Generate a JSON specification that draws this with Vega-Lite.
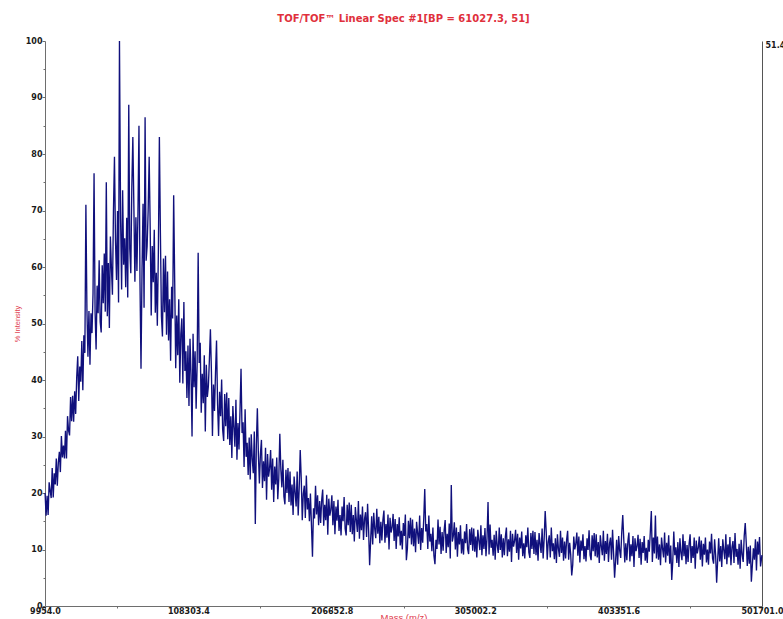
{
"$schema": "https://vega.github.io/schema/vega-lite/v6.json",
"width": 717,
"height": 565,
"autosize": {"type": "none"},
"padding": {"left": 45, "top": 41, "right": 21, "bottom": 13},
"background": "white",
"title": {"text": "TOF/TOF™ Linear Spec #1[BP = 61027.3, 51]", "color": "#e0303c", "font": "DejaVu Sans", "fontSize": 10, "fontWeight": "bold", "anchor": "middle", "offset": 13},
"data": {"values": [
{"mz":10000,"pct":20.0},{"mz":10700,"pct":16.0},{"mz":11400,"pct":19.5},{"mz":12100,"pct":16.1},{"mz":12800,"pct":21.9},{"mz":13500,"pct":20.4},{"mz":14200,"pct":19.1},{"mz":14900,"pct":24.4},{"mz":15600,"pct":19.2},{"mz":16300,"pct":23.5},
{"mz":17000,"pct":21.5},{"mz":17700,"pct":26.1},{"mz":18400,"pct":21.3},{"mz":19100,"pct":25.4},{"mz":19800,"pct":27.3},{"mz":20500,"pct":23.7},{"mz":21200,"pct":30.1},{"mz":21900,"pct":26.3},{"mz":22600,"pct":28.4},{"mz":23300,"pct":26.1},
{"mz":24000,"pct":31.0},{"mz":24700,"pct":26.1},{"mz":25400,"pct":33.6},{"mz":26100,"pct":31.1},{"mz":26800,"pct":30.2},{"mz":27500,"pct":37.0},{"mz":28200,"pct":32.7},{"mz":28900,"pct":37.2},{"mz":29600,"pct":32.6},{"mz":30300,"pct":38.0},
{"mz":31000,"pct":34.0},{"mz":31700,"pct":40.5},{"mz":32400,"pct":44.2},{"mz":33100,"pct":36.3},{"mz":33800,"pct":42.4},{"mz":34500,"pct":39.7},{"mz":35200,"pct":46.9},{"mz":35900,"pct":38.2},{"mz":36600,"pct":47.9},{"mz":37300,"pct":44.8},
{"mz":38000,"pct":71.0},{"mz":38700,"pct":52.6},{"mz":39400,"pct":44.1},{"mz":40100,"pct":52.2},{"mz":40800,"pct":42.7},{"mz":41500,"pct":51.8},{"mz":42200,"pct":48.3},{"mz":42900,"pct":55.4},{"mz":43600,"pct":76.6},{"mz":44300,"pct":52.0},
{"mz":45000,"pct":45.4},{"mz":45700,"pct":56.7},{"mz":46400,"pct":51.8},{"mz":47100,"pct":61.2},{"mz":47800,"pct":50.3},{"mz":48500,"pct":48.4},{"mz":49200,"pct":60.3},{"mz":49900,"pct":53.6},{"mz":50600,"pct":62.4},{"mz":51300,"pct":52.1},
{"mz":52000,"pct":75.0},{"mz":52700,"pct":51.3},{"mz":53400,"pct":60.7},{"mz":54100,"pct":49.2},{"mz":54800,"pct":65.4},{"mz":55500,"pct":59.9},{"mz":56200,"pct":55.1},{"mz":56900,"pct":69.8},{"mz":57600,"pct":79.5},{"mz":58300,"pct":64.7},
{"mz":59000,"pct":57.7},{"mz":59700,"pct":69.9},{"mz":60400,"pct":53.7},{"mz":61027.3,"pct":100.0},{"mz":61800,"pct":68.5},{"mz":62500,"pct":56.0},{"mz":63200,"pct":73.6},{"mz":63900,"pct":60.4},{"mz":64600,"pct":65.1},{"mz":65300,"pct":56.4},
{"mz":66000,"pct":68.7},{"mz":66700,"pct":54.6},{"mz":67400,"pct":88.7},{"mz":68100,"pct":63.2},{"mz":68800,"pct":58.9},{"mz":69500,"pct":74.1},{"mz":70200,"pct":83.0},{"mz":70900,"pct":70.8},{"mz":71600,"pct":57.4},{"mz":72300,"pct":68.8},
{"mz":73000,"pct":59.3},{"mz":73700,"pct":69.4},{"mz":74400,"pct":85.0},{"mz":75100,"pct":57.4},{"mz":75800,"pct":42.0},{"mz":76500,"pct":59.6},{"mz":77200,"pct":71.2},{"mz":77900,"pct":52.8},{"mz":78600,"pct":86.5},{"mz":79300,"pct":61.1},
{"mz":80000,"pct":63.7},{"mz":80700,"pct":70.0},{"mz":81400,"pct":79.5},{"mz":82100,"pct":66.9},{"mz":82800,"pct":51.4},{"mz":83500,"pct":63.7},{"mz":84200,"pct":57.3},{"mz":84900,"pct":66.6},{"mz":85600,"pct":51.9},{"mz":86300,"pct":59.0},
{"mz":87000,"pct":49.6},{"mz":87700,"pct":62.5},{"mz":88400,"pct":83.0},{"mz":89100,"pct":66.0},{"mz":89800,"pct":51.3},{"mz":90500,"pct":47.7},{"mz":91200,"pct":61.5},{"mz":91900,"pct":52.0},{"mz":92600,"pct":62.0},{"mz":93300,"pct":48.0},
{"mz":94000,"pct":59.2},{"mz":94700,"pct":47.0},{"mz":95400,"pct":54.3},{"mz":96100,"pct":43.4},{"mz":96800,"pct":56.5},{"mz":97500,"pct":50.9},{"mz":98200,"pct":72.7},{"mz":98900,"pct":57.6},{"mz":99600,"pct":42.1},{"mz":100300,"pct":51.4},
{"mz":101000,"pct":44.4},{"mz":101700,"pct":54.3},{"mz":102400,"pct":39.5},{"mz":103100,"pct":48.1},{"mz":103800,"pct":50.9},{"mz":104500,"pct":39.4},{"mz":105200,"pct":53.8},{"mz":105900,"pct":41.6},{"mz":106600,"pct":45.1},{"mz":107300,"pct":36.8},
{"mz":108000,"pct":46.1},{"mz":108700,"pct":35.4},{"mz":109400,"pct":47.3},{"mz":110100,"pct":41.0},{"mz":110800,"pct":30.0},{"mz":111500,"pct":48.2},{"mz":112200,"pct":38.7},{"mz":112900,"pct":45.1},{"mz":113600,"pct":34.9},{"mz":114300,"pct":42.9},
{"mz":115000,"pct":62.5},{"mz":115700,"pct":43.0},{"mz":116400,"pct":46.6},{"mz":117100,"pct":34.2},{"mz":117800,"pct":41.1},{"mz":118500,"pct":35.9},{"mz":119200,"pct":44.4},{"mz":119900,"pct":30.9},{"mz":120600,"pct":42.7},{"mz":121300,"pct":37.0},
{"mz":122000,"pct":38.9},{"mz":122700,"pct":43.6},{"mz":123400,"pct":49.0},{"mz":124100,"pct":41.4},{"mz":124800,"pct":30.1},{"mz":125500,"pct":39.2},{"mz":126200,"pct":34.5},{"mz":126900,"pct":41.3},{"mz":127600,"pct":47.0},{"mz":128300,"pct":35.8},
{"mz":129000,"pct":30.1},{"mz":129700,"pct":37.9},{"mz":130400,"pct":33.6},{"mz":131100,"pct":40.1},{"mz":131800,"pct":31.2},{"mz":132500,"pct":29.2},{"mz":133200,"pct":37.5},{"mz":133900,"pct":31.8},{"mz":134600,"pct":37.8},{"mz":135300,"pct":29.5},
{"mz":136000,"pct":36.8},{"mz":136700,"pct":28.5},{"mz":137400,"pct":33.6},{"mz":138100,"pct":26.2},{"mz":138800,"pct":35.4},{"mz":139500,"pct":31.6},{"mz":140200,"pct":28.2},{"mz":140900,"pct":36.5},{"mz":141600,"pct":25.9},{"mz":142300,"pct":32.4},
{"mz":143000,"pct":27.7},{"mz":143700,"pct":34.6},{"mz":144400,"pct":42.0},{"mz":145100,"pct":30.6},{"mz":145800,"pct":32.5},{"mz":146500,"pct":24.6},{"mz":147200,"pct":34.8},{"mz":147900,"pct":26.4},{"mz":148600,"pct":28.9},{"mz":149300,"pct":23.2},
{"mz":150000,"pct":29.8},{"mz":150700,"pct":22.4},{"mz":151400,"pct":30.4},{"mz":152100,"pct":26.0},{"mz":152800,"pct":23.5},{"mz":153500,"pct":30.9},{"mz":154200,"pct":14.5},{"mz":154900,"pct":28.5},{"mz":155600,"pct":35.0},{"mz":156300,"pct":26.8},
{"mz":157000,"pct":21.7},{"mz":157700,"pct":26.9},{"mz":158400,"pct":29.4},{"mz":159100,"pct":20.9},{"mz":159800,"pct":25.6},{"mz":160500,"pct":22.1},{"mz":161200,"pct":28.0},{"mz":161900,"pct":18.8},{"mz":162600,"pct":26.9},{"mz":163300,"pct":22.9},
{"mz":164000,"pct":24.4},{"mz":164700,"pct":27.6},{"mz":165400,"pct":20.6},{"mz":166100,"pct":26.1},{"mz":166800,"pct":18.4},{"mz":167500,"pct":24.7},{"mz":168200,"pct":21.5},{"mz":168900,"pct":26.3},{"mz":169600,"pct":18.9},{"mz":170300,"pct":22.6},
{"mz":171000,"pct":30.5},{"mz":171700,"pct":24.2},{"mz":172400,"pct":21.0},{"mz":173100,"pct":25.9},{"mz":173800,"pct":19.4},{"mz":174500,"pct":18.0},{"mz":175200,"pct":24.1},{"mz":175900,"pct":20.0},{"mz":176600,"pct":24.4},{"mz":177300,"pct":18.4},
{"mz":178000,"pct":23.8},{"mz":178700,"pct":17.8},{"mz":179400,"pct":21.5},{"mz":180100,"pct":16.1},{"mz":180800,"pct":22.9},{"mz":181500,"pct":20.1},{"mz":182200,"pct":17.6},{"mz":182900,"pct":23.8},{"mz":183600,"pct":16.0},{"mz":184300,"pct":20.9},
{"mz":185000,"pct":27.6},{"mz":185700,"pct":22.5},{"mz":186400,"pct":15.2},{"mz":187100,"pct":19.8},{"mz":187800,"pct":21.3},{"mz":188500,"pct":15.6},{"mz":189200,"pct":23.1},{"mz":189900,"pct":17.1},{"mz":190600,"pct":19.1},{"mz":191300,"pct":15.0},
{"mz":192000,"pct":19.9},{"mz":192700,"pct":14.3},{"mz":193400,"pct":8.7},{"mz":194100,"pct":17.3},{"mz":194800,"pct":15.5},{"mz":195500,"pct":21.3},{"mz":196200,"pct":16.2},{"mz":196900,"pct":19.6},{"mz":197600,"pct":14.3},{"mz":198300,"pct":18.6},
{"mz":199000,"pct":14.7},{"mz":199700,"pct":18.7},{"mz":200400,"pct":20.6},{"mz":201100,"pct":14.2},{"mz":201800,"pct":17.9},{"mz":202500,"pct":15.2},{"mz":203200,"pct":19.7},{"mz":203900,"pct":12.6},{"mz":204600,"pct":19.0},{"mz":205300,"pct":16.0},
{"mz":206000,"pct":17.1},{"mz":206700,"pct":19.6},{"mz":207400,"pct":14.3},{"mz":208100,"pct":18.6},{"mz":208800,"pct":12.7},{"mz":209500,"pct":17.6},{"mz":210200,"pct":15.1},{"mz":210900,"pct":18.8},{"mz":211600,"pct":13.3},{"mz":212300,"pct":16.1},
{"mz":213000,"pct":12.5},{"mz":213700,"pct":17.6},{"mz":214400,"pct":15.0},{"mz":215100,"pct":19.3},{"mz":215800,"pct":13.7},{"mz":216500,"pct":12.5},{"mz":217200,"pct":17.9},{"mz":217900,"pct":14.3},{"mz":218600,"pct":18.3},{"mz":219300,"pct":13.1},
{"mz":220000,"pct":17.9},{"mz":220700,"pct":12.7},{"mz":221400,"pct":16.1},{"mz":222100,"pct":11.4},{"mz":222800,"pct":17.5},{"mz":223500,"pct":15.2},{"mz":224200,"pct":13.1},{"mz":224900,"pct":18.6},{"mz":225600,"pct":11.9},{"mz":226300,"pct":16.2},
{"mz":227000,"pct":13.4},{"mz":227700,"pct":17.6},{"mz":228400,"pct":11.7},{"mz":229100,"pct":15.4},{"mz":229800,"pct":16.6},{"mz":230500,"pct":12.2},{"mz":231200,"pct":18.1},{"mz":231900,"pct":13.4},{"mz":232600,"pct":7.2},{"mz":233300,"pct":11.7},
{"mz":234000,"pct":15.9},{"mz":234700,"pct":10.9},{"mz":235400,"pct":16.5},{"mz":236100,"pct":13.7},{"mz":236800,"pct":12.0},{"mz":237500,"pct":17.2},{"mz":238200,"pct":12.8},{"mz":238900,"pct":15.8},{"mz":239600,"pct":11.1},{"mz":240300,"pct":14.9},
{"mz":241000,"pct":11.6},{"mz":241700,"pct":15.2},{"mz":242400,"pct":16.9},{"mz":243100,"pct":11.2},{"mz":243800,"pct":14.5},{"mz":244500,"pct":12.1},{"mz":245200,"pct":16.2},{"mz":245900,"pct":10.0},{"mz":246600,"pct":15.6},{"mz":247300,"pct":13.0},
{"mz":248000,"pct":13.9},{"mz":248700,"pct":16.3},{"mz":249400,"pct":11.5},{"mz":250100,"pct":15.4},{"mz":250800,"pct":10.1},{"mz":251500,"pct":14.5},{"mz":252200,"pct":12.3},{"mz":252900,"pct":15.7},{"mz":253600,"pct":10.7},{"mz":254300,"pct":13.3},
{"mz":255000,"pct":10.0},{"mz":255700,"pct":14.7},{"mz":256400,"pct":12.4},{"mz":257100,"pct":16.2},{"mz":257800,"pct":8.1},{"mz":258500,"pct":10.2},{"mz":259200,"pct":15.1},{"mz":259900,"pct":12.0},{"mz":260600,"pct":15.6},{"mz":261300,"pct":10.9},
{"mz":262000,"pct":15.3},{"mz":262700,"pct":10.6},{"mz":263400,"pct":13.7},{"mz":264100,"pct":9.5},{"mz":264800,"pct":14.9},{"mz":265500,"pct":12.9},{"mz":266200,"pct":11.0},{"mz":266900,"pct":16.0},{"mz":267600,"pct":9.9},{"mz":268300,"pct":13.8},
{"mz":269000,"pct":11.2},{"mz":269700,"pct":15.4},{"mz":270400,"pct":20.7},{"mz":271100,"pct":13.2},{"mz":271800,"pct":14.5},{"mz":272500,"pct":10.1},{"mz":273200,"pct":16.0},{"mz":273900,"pct":11.4},{"mz":274600,"pct":12.8},{"mz":275300,"pct":9.7},
{"mz":276000,"pct":13.9},{"mz":276700,"pct":8.9},{"mz":277400,"pct":7.4},{"mz":278100,"pct":11.7},{"mz":278800,"pct":10.1},{"mz":279500,"pct":15.3},{"mz":280200,"pct":10.9},{"mz":280900,"pct":14.0},{"mz":281600,"pct":9.2},{"mz":282300,"pct":13.1},
{"mz":283000,"pct":9.8},{"mz":283700,"pct":13.4},{"mz":284400,"pct":15.2},{"mz":285100,"pct":9.4},{"mz":285800,"pct":12.8},{"mz":286500,"pct":10.4},{"mz":287200,"pct":14.6},{"mz":287900,"pct":8.4},{"mz":288600,"pct":21.4},{"mz":289300,"pct":11.4},
{"mz":290000,"pct":12.4},{"mz":290700,"pct":14.8},{"mz":291400,"pct":10.0},{"mz":292100,"pct":13.9},{"mz":292800,"pct":8.7},{"mz":293500,"pct":13.1},{"mz":294200,"pct":10.9},{"mz":294900,"pct":14.3},{"mz":295600,"pct":9.3},{"mz":296300,"pct":11.9},
{"mz":297000,"pct":9.1},{"mz":297700,"pct":13.2},{"mz":298400,"pct":11.1},{"mz":299100,"pct":14.5},{"mz":299800,"pct":10.1},{"mz":300500,"pct":9.2},{"mz":301200,"pct":13.6},{"mz":301900,"pct":10.8},{"mz":302600,"pct":13.9},{"mz":303300,"pct":9.8},
{"mz":304000,"pct":13.7},{"mz":304700,"pct":9.6},{"mz":305400,"pct":12.3},{"mz":306100,"pct":8.6},{"mz":306800,"pct":13.5},{"mz":307500,"pct":11.6},{"mz":308200,"pct":9.9},{"mz":308900,"pct":14.3},{"mz":309600,"pct":9.0},{"mz":310300,"pct":12.5},
{"mz":311000,"pct":10.1},{"mz":311700,"pct":13.8},{"mz":312400,"pct":8.8},{"mz":313100,"pct":12.0},{"mz":313800,"pct":18.4},{"mz":314500,"pct":9.1},{"mz":315200,"pct":14.4},{"mz":315900,"pct":10.3},{"mz":316600,"pct":11.7},{"mz":317300,"pct":8.9},
{"mz":318000,"pct":12.6},{"mz":318700,"pct":8.2},{"mz":319400,"pct":13.3},{"mz":320100,"pct":10.7},{"mz":320800,"pct":9.4},{"mz":321500,"pct":13.9},{"mz":322200,"pct":9.9},{"mz":322900,"pct":12.7},{"mz":323600,"pct":8.6},{"mz":324300,"pct":12.0},
{"mz":325000,"pct":9.0},{"mz":325700,"pct":12.3},{"mz":326400,"pct":13.9},{"mz":327100,"pct":8.8},{"mz":327800,"pct":11.8},{"mz":328500,"pct":9.6},{"mz":329200,"pct":13.3},{"mz":329900,"pct":7.8},{"mz":330600,"pct":12.8},{"mz":331300,"pct":10.5},
{"mz":332000,"pct":11.5},{"mz":332700,"pct":13.5},{"mz":333400,"pct":9.4},{"mz":334100,"pct":12.8},{"mz":334800,"pct":8.2},{"mz":335500,"pct":12.1},{"mz":336200,"pct":10.2},{"mz":336900,"pct":13.2},{"mz":337600,"pct":8.8},{"mz":338300,"pct":11.1},
{"mz":339000,"pct":8.4},{"mz":339700,"pct":12.5},{"mz":340400,"pct":10.4},{"mz":341100,"pct":13.9},{"mz":341800,"pct":9.5},{"mz":342500,"pct":8.5},{"mz":343200,"pct":12.9},{"mz":343900,"pct":10.1},{"mz":344600,"pct":13.3},{"mz":345300,"pct":9.2},
{"mz":346000,"pct":13.1},{"mz":346700,"pct":9.0},{"mz":347400,"pct":11.7},{"mz":348100,"pct":8.0},{"mz":348800,"pct":12.9},{"mz":349500,"pct":11.0},{"mz":350200,"pct":9.4},{"mz":350900,"pct":13.7},{"mz":351600,"pct":8.4},{"mz":352300,"pct":11.9},
{"mz":353000,"pct":16.8},{"mz":353700,"pct":13.2},{"mz":354400,"pct":8.2},{"mz":355100,"pct":11.4},{"mz":355800,"pct":12.5},{"mz":356500,"pct":8.6},{"mz":357200,"pct":13.9},{"mz":357900,"pct":9.7},{"mz":358600,"pct":11.1},{"mz":359300,"pct":8.3},
{"mz":360000,"pct":12.0},{"mz":360700,"pct":7.6},{"mz":361400,"pct":12.7},{"mz":362100,"pct":10.1},{"mz":362800,"pct":8.7},{"mz":363500,"pct":13.3},{"mz":364200,"pct":9.4},{"mz":364900,"pct":12.1},{"mz":365600,"pct":8.0},{"mz":366300,"pct":11.4},
{"mz":367000,"pct":8.4},{"mz":367700,"pct":11.7},{"mz":368400,"pct":13.3},{"mz":369100,"pct":8.2},{"mz":369800,"pct":11.2},{"mz":370500,"pct":9.1},{"mz":371200,"pct":5.4},{"mz":371900,"pct":7.3},{"mz":372600,"pct":12.3},{"mz":373300,"pct":10.0},
{"mz":374000,"pct":11.0},{"mz":374700,"pct":13.0},{"mz":375400,"pct":8.9},{"mz":376100,"pct":12.3},{"mz":376800,"pct":7.7},{"mz":377500,"pct":11.6},{"mz":378200,"pct":9.8},{"mz":378900,"pct":12.7},{"mz":379600,"pct":8.3},{"mz":380300,"pct":10.6},
{"mz":381000,"pct":7.9},{"mz":381700,"pct":12.0},{"mz":382400,"pct":9.9},{"mz":383100,"pct":13.4},{"mz":383800,"pct":9.0},{"mz":384500,"pct":8.1},{"mz":385200,"pct":12.5},{"mz":385900,"pct":9.7},{"mz":386600,"pct":12.9},{"mz":387300,"pct":8.8},
{"mz":388000,"pct":12.7},{"mz":388700,"pct":8.6},{"mz":389400,"pct":11.3},{"mz":390100,"pct":7.6},{"mz":390800,"pct":12.5},{"mz":391500,"pct":10.6},{"mz":392200,"pct":9.0},{"mz":392900,"pct":13.3},{"mz":393600,"pct":8.0},{"mz":394300,"pct":11.5},
{"mz":395000,"pct":9.2},{"mz":395700,"pct":12.8},{"mz":396400,"pct":7.8},{"mz":397100,"pct":11.0},{"mz":397800,"pct":12.1},{"mz":398500,"pct":8.2},{"mz":399200,"pct":13.5},{"mz":399900,"pct":9.4},{"mz":400600,"pct":5.0},{"mz":401300,"pct":8.0},
{"mz":402000,"pct":11.7},{"mz":402700,"pct":7.3},{"mz":403400,"pct":12.4},{"mz":404100,"pct":9.8},{"mz":404800,"pct":8.5},{"mz":405500,"pct":13.0},{"mz":406200,"pct":16.1},{"mz":406900,"pct":11.8},{"mz":407600,"pct":7.7},{"mz":408300,"pct":11.1},
{"mz":409000,"pct":8.1},{"mz":409700,"pct":11.4},{"mz":410400,"pct":13.0},{"mz":411100,"pct":7.9},{"mz":411800,"pct":10.9},{"mz":412500,"pct":8.8},{"mz":413200,"pct":12.4},{"mz":413900,"pct":6.9},{"mz":414600,"pct":12.0},{"mz":415300,"pct":9.7},
{"mz":416000,"pct":10.6},{"mz":416700,"pct":12.6},{"mz":417400,"pct":8.5},{"mz":418100,"pct":11.9},{"mz":418800,"pct":7.3},{"mz":419500,"pct":11.3},{"mz":420200,"pct":9.4},{"mz":420900,"pct":12.4},{"mz":421600,"pct":8.0},{"mz":422300,"pct":10.3},
{"mz":423000,"pct":7.6},{"mz":423700,"pct":11.7},{"mz":424400,"pct":9.6},{"mz":425100,"pct":13.1},{"mz":425800,"pct":16.8},{"mz":426500,"pct":7.8},{"mz":427200,"pct":12.1},{"mz":427900,"pct":9.3},{"mz":428600,"pct":16.0},{"mz":429300,"pct":8.4},
{"mz":430000,"pct":12.3},{"mz":430700,"pct":8.2},{"mz":431400,"pct":10.9},{"mz":432100,"pct":7.2},{"mz":432800,"pct":12.1},{"mz":433500,"pct":10.2},{"mz":434200,"pct":8.6},{"mz":434900,"pct":13.0},{"mz":435600,"pct":7.7},{"mz":436300,"pct":11.2},
{"mz":437000,"pct":8.9},{"mz":437700,"pct":12.5},{"mz":438400,"pct":7.5},{"mz":439100,"pct":10.7},{"mz":439800,"pct":4.6},{"mz":440500,"pct":7.9},{"mz":441200,"pct":13.2},{"mz":441900,"pct":9.0},{"mz":442600,"pct":10.4},{"mz":443300,"pct":7.6},
{"mz":444000,"pct":11.3},{"mz":444700,"pct":6.9},{"mz":445400,"pct":12.0},{"mz":446100,"pct":9.4},{"mz":446800,"pct":8.1},{"mz":447500,"pct":12.7},{"mz":448200,"pct":8.8},{"mz":448900,"pct":11.5},{"mz":449600,"pct":7.4},{"mz":450300,"pct":10.8},
{"mz":451000,"pct":7.8},{"mz":451700,"pct":11.0},{"mz":452400,"pct":12.7},{"mz":453100,"pct":7.6},{"mz":453800,"pct":10.6},{"mz":454500,"pct":8.5},{"mz":455200,"pct":12.1},{"mz":455900,"pct":6.6},{"mz":456600,"pct":11.6},{"mz":457300,"pct":9.3},
{"mz":458000,"pct":10.3},{"mz":458700,"pct":12.3},{"mz":459400,"pct":8.2},{"mz":460100,"pct":11.6},{"mz":460800,"pct":7.0},{"mz":461500,"pct":11.0},{"mz":462200,"pct":9.1},{"mz":462900,"pct":12.1},{"mz":463600,"pct":7.7},{"mz":464300,"pct":10.0},
{"mz":465000,"pct":7.3},{"mz":465700,"pct":11.4},{"mz":466400,"pct":9.3},{"mz":467100,"pct":12.8},{"mz":467800,"pct":8.4},{"mz":468500,"pct":7.5},{"mz":469200,"pct":11.8},{"mz":469900,"pct":9.0},{"mz":470600,"pct":4.1},{"mz":471300,"pct":8.1},
{"mz":472000,"pct":12.0},{"mz":472700,"pct":7.9},{"mz":473400,"pct":10.6},{"mz":474100,"pct":6.9},{"mz":474800,"pct":11.8},{"mz":475500,"pct":9.9},{"mz":476200,"pct":8.3},{"mz":476900,"pct":12.7},{"mz":477600,"pct":7.4},{"mz":478300,"pct":10.9},
{"mz":479000,"pct":8.6},{"mz":479700,"pct":12.2},{"mz":480400,"pct":7.2},{"mz":481100,"pct":10.4},{"mz":481800,"pct":11.5},{"mz":482500,"pct":7.6},{"mz":483200,"pct":12.9},{"mz":483900,"pct":8.7},{"mz":484600,"pct":10.1},{"mz":485300,"pct":7.3},
{"mz":486000,"pct":11.0},{"mz":486700,"pct":6.6},{"mz":487400,"pct":11.7},{"mz":488100,"pct":9.1},{"mz":488800,"pct":7.8},{"mz":489500,"pct":12.4},{"mz":490200,"pct":14.7},{"mz":490900,"pct":11.2},{"mz":491600,"pct":7.1},{"mz":492300,"pct":10.5},
{"mz":493000,"pct":7.5},{"mz":493700,"pct":10.7},{"mz":494400,"pct":4.3},{"mz":495100,"pct":7.3},{"mz":495800,"pct":10.2},{"mz":496500,"pct":8.2},{"mz":497200,"pct":11.8},{"mz":497900,"pct":6.3},{"mz":498600,"pct":11.4},{"mz":499300,"pct":9.1},
{"mz":500000,"pct":12.2},{"mz":500700,"pct":7.0},{"mz":501650,"pct":9.0}
]},
"layer": [
{
"mark": {"type": "line", "color": "#10107c", "strokeWidth": 1.35},
"encoding": {
"x": {"field": "mz", "type": "quantitative", "scale": {"domain": [9954, 501701], "nice": false, "zero": false},
"axis": {"orient": "bottom", "values": [9954, 108303.4, 206652.8, 305002.2, 403351.6, 501701], "format": ".1f", "labelFont": "DejaVu Sans", "labelFontSize": 8, "labelFontWeight": "bold", "labelColor": "#1a1a1a", "labelPadding": -3, "labelFlush": false, "labelOverlap": false, "tickSize": 4, "tickColor": "#6e6e6e", "domainColor": "#6e6e6e", "grid": false, "title": "Mass (m/z)", "titleColor": "#e0404f", "titleFont": "Liberation Sans", "titleFontSize": 9.5, "titleFontWeight": "normal", "titlePadding": -3}},
"y": {"field": "pct", "type": "quantitative", "scale": {"domain": [0, 100], "nice": false},
"axis": {"orient": "left", "values": [0, 10, 20, 30, 40, 50, 60, 70, 80, 90, 100], "format": "d", "labelFont": "DejaVu Sans", "labelFontSize": 8, "labelFontWeight": "bold", "labelColor": "#1a1a1a", "labelPadding": 0, "labelOverlap": false, "tickSize": 3, "tickColor": "#6e6e6e", "domainColor": "#6e6e6e", "grid": false, "title": "% Intensity", "titleColor": "#e0404f", "titleFont": "Liberation Sans", "titleFontSize": 7.5, "titleFontWeight": "normal", "titlePadding": 4}}
}
},
{
"mark": {"type": "point", "opacity": 0},
"encoding": {
"x": {"field": "mz", "type": "quantitative", "axis": {"orient": "bottom", "values": [59128.7, 157478.1, 255827.5, 354176.9, 452526.3], "labels": false, "domain": false, "tickSize": 2, "tickColor": "#6e6e6e", "grid": false, "title": null}},
"y": {"field": "pct", "type": "quantitative", "axis": {"orient": "left", "values": [5, 15, 25, 35, 45, 55, 65, 75, 85, 95], "labels": false, "domain": false, "tickSize": 2, "tickColor": "#6e6e6e", "grid": false, "title": null}}
}
},
{
"mark": {"type": "point", "opacity": 0},
"encoding": {
"x": {"field": "mz", "type": "quantitative", "axis": null},
"y": {"field": "pct", "type": "quantitative", "axis": {"orient": "right", "values": [100], "labelExpr": "'51.4'", "ticks": false, "domain": true, "domainColor": "#555555", "grid": false, "title": null, "labelBaseline": "top", "labelAlign": "left", "labelPadding": 3, "labelFont": "DejaVu Sans", "labelFontSize": 8, "labelFontWeight": "bold", "labelColor": "#1a1a1a"}}
}
}
],
"resolve": {"axis": {"x": "independent", "y": "independent"}},
"config": {"view": {"stroke": null}}
}
